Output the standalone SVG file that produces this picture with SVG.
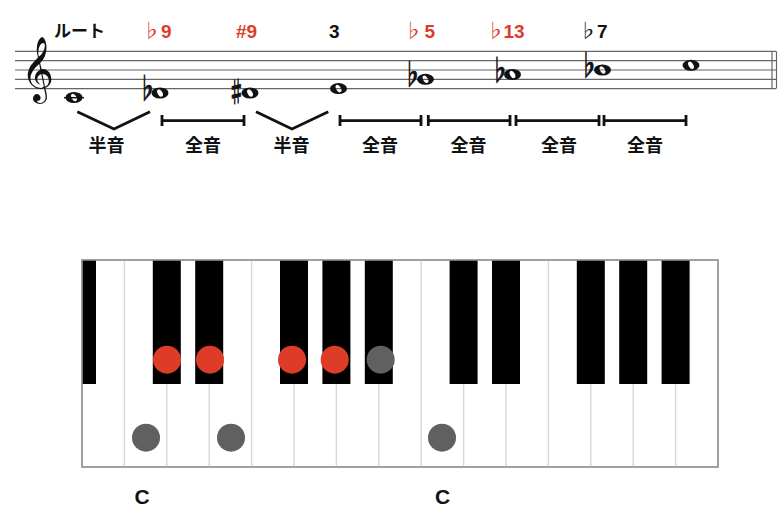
<svg xmlns="http://www.w3.org/2000/svg" width="784" height="506" viewBox="0 0 784 506">
<defs>
<style>
.staff{stroke:#666;stroke-width:1.2}
.lbl{font-family:"Liberation Sans","Noto Sans CJK JP",sans-serif;font-weight:bold;font-size:19px}
.jp{font-family:"Noto Sans CJK JP",sans-serif;font-weight:bold;font-size:18px;fill:#111;text-anchor:middle}
.acc{font-family:"Noto Sans CJK JP",sans-serif;font-weight:normal;font-size:19px;text-anchor:middle}
.nacc{font-family:"Noto Sans CJK JP",sans-serif;font-weight:bold;font-size:28px;fill:#111;stroke:#111;stroke-width:0.8;text-anchor:middle}
.red{fill:#dc3c28}
.blk{fill:#111}
.br{stroke:#111;stroke-width:2.8;fill:none}
.key{stroke:#d9d9d9;stroke-width:1.5}
.bk{fill:#000}
.dotr{fill:#dc3c28}
.dotg{fill:#606060}
.cl{font-family:"Liberation Sans",sans-serif;font-weight:bold;font-size:21px;fill:#111;text-anchor:middle}
</style>
<path id="whole" fill="#111" fill-rule="evenodd" d="M-8.5,0 A8.5,5.5 0 1,0 8.5,0 A8.5,5.5 0 1,0 -8.5,0 Z M-2,-3.5 A4,2.3 60 1,0 2,3.5 A4,2.3 60 1,0 -2,-3.5 Z"/>
</defs>

<g id="staff">
<line class="staff" x1="15" y1="51.3" x2="776" y2="51.3"/>
<line class="staff" x1="15" y1="60.6" x2="776" y2="60.6"/>
<line class="staff" x1="15" y1="70" x2="776" y2="70"/>
<line class="staff" x1="15" y1="79.3" x2="776" y2="79.3"/>
<line class="staff" x1="15" y1="88.6" x2="776" y2="88.6"/>
<line class="staff" x1="772" y1="51.3" x2="772" y2="88.6"/>
<line class="staff" x1="776.5" y1="51.3" x2="776.5" y2="88.6"/>
<text x="37" y="88" font-family="DejaVu Sans,serif" font-size="56" text-anchor="middle" fill="#111">𝄞</text>
</g>

<g id="notes">
<line stroke="#111" stroke-width="1.5" x1="64" y1="97.7" x2="84" y2="97.7"/>
<use href="#whole" x="74" y="97.5"/>
<text class="nacc" transform="translate(147,99) scale(0.68,1)">♭</text>
<use href="#whole" x="160" y="93"/>
<text class="nacc" transform="translate(236.5,102) scale(0.62,1)">♯</text>
<use href="#whole" x="250" y="93"/>
<use href="#whole" x="338.5" y="88.6"/>
<text class="nacc" transform="translate(412,85.3) scale(0.68,1)">♭</text>
<use href="#whole" x="425.5" y="79.3"/>
<text class="nacc" transform="translate(499.5,80.5) scale(0.68,1)">♭</text>
<use href="#whole" x="512.5" y="74.5"/>
<text class="nacc" transform="translate(588.5,76) scale(0.68,1)">♭</text>
<use href="#whole" x="602.5" y="70"/>
<use href="#whole" x="691" y="65.3"/>
</g>

<g id="degree-labels" class="lbl">
<text x="54" y="36.5" class="blk" font-family="Noto Sans CJK JP,sans-serif" font-size="17">ルート</text>
<text x="151.2" y="37.5" class="red acc">♭</text>
<text x="161" y="37.5" class="red">9</text>
<text x="236" y="37.5" class="red">#9</text>
<text x="329" y="37.5" class="blk">3</text>
<text x="413" y="37.5" class="red acc">♭</text>
<text x="424.5" y="37.5" class="red">5</text>
<text x="495.3" y="37.5" class="red acc">♭</text>
<text x="503.5" y="37.5" class="red">13</text>
<text x="587.8" y="37.5" class="blk acc">♭</text>
<text x="597" y="37.5" class="blk">7</text>
</g>

<g id="intervals">
<polyline class="br" points="77.3,111.7 114,129 150,111.7"/>
<path class="br" d="M162,115 V126 M162,120.7 H244 M244,115 V126"/>
<polyline class="br" points="256,111.7 292,129 328.3,111.7"/>
<path class="br" d="M340,115 V126 M340,120.7 H421 M421,115 V126"/>
<path class="br" d="M428.3,115 V126 M428.3,120.7 H510 M510,115 V126"/>
<path class="br" d="M516,115 V126 M516,120.7 H599 M599,115 V126"/>
<path class="br" d="M604,115 V126 M604,120.7 H686 M686,115 V126"/>
<text class="jp" x="106.5" y="152">半音</text>
<text class="jp" x="203" y="152">全音</text>
<text class="jp" x="291.5" y="152">半音</text>
<text class="jp" x="380" y="152">全音</text>
<text class="jp" x="468.5" y="152">全音</text>
<text class="jp" x="559" y="152">全音</text>
<text class="jp" x="645" y="152">全音</text>
</g>

<g id="piano">
<rect x="82" y="260" width="636" height="207" fill="#fff" stroke="#9a9a9a" stroke-width="1.5"/>
<g class="key">
<line x1="124.4" y1="260" x2="124.4" y2="467"/>
<line x1="166.8" y1="260" x2="166.8" y2="467"/>
<line x1="209.2" y1="260" x2="209.2" y2="467"/>
<line x1="251.6" y1="260" x2="251.6" y2="467"/>
<line x1="294" y1="260" x2="294" y2="467"/>
<line x1="336.4" y1="260" x2="336.4" y2="467"/>
<line x1="378.8" y1="260" x2="378.8" y2="467"/>
<line x1="421.2" y1="260" x2="421.2" y2="467"/>
<line x1="463.6" y1="260" x2="463.6" y2="467"/>
<line x1="506" y1="260" x2="506" y2="467"/>
<line x1="548.4" y1="260" x2="548.4" y2="467"/>
<line x1="590.8" y1="260" x2="590.8" y2="467"/>
<line x1="633.2" y1="260" x2="633.2" y2="467"/>
<line x1="675.6" y1="260" x2="675.6" y2="467"/>
</g>
<g class="bk">
<rect x="82" y="260" width="14" height="124"/>
<rect x="152.8" y="260" width="28" height="124"/>
<rect x="195.2" y="260" width="28" height="124"/>
<rect x="280" y="260" width="28" height="124"/>
<rect x="322.4" y="260" width="28" height="124"/>
<rect x="364.8" y="260" width="28" height="124"/>
<rect x="449.6" y="260" width="28" height="124"/>
<rect x="492" y="260" width="28" height="124"/>
<rect x="576.8" y="260" width="28" height="124"/>
<rect x="619.2" y="260" width="28" height="124"/>
<rect x="661.6" y="260" width="28" height="124"/>
</g>
<rect x="82" y="260" width="636" height="207" fill="none" stroke="#9a9a9a" stroke-width="1.5"/>
</g>

<g id="dots">
<circle class="dotr" cx="167" cy="359.7" r="14"/>
<circle class="dotr" cx="210" cy="359.7" r="14"/>
<circle class="dotr" cx="292" cy="359.7" r="14"/>
<circle class="dotr" cx="334.7" cy="359.7" r="14"/>
<circle class="dotg" cx="380.7" cy="359.7" r="14"/>
<circle class="dotg" cx="146" cy="437.7" r="14"/>
<circle class="dotg" cx="231" cy="437.7" r="14"/>
<circle class="dotg" cx="442" cy="437.7" r="14"/>
</g>

<g id="c-labels">
<text class="cl" x="142" y="503.5">C</text>
<text class="cl" x="442.5" y="503.5">C</text>
</g>
</svg>
